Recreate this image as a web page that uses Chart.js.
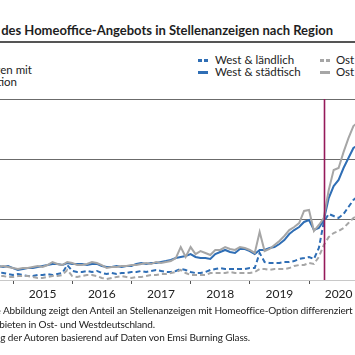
<!DOCTYPE html>
<html><head><meta charset="utf-8">
<script src="https://cdn.jsdelivr.net/npm/chart.js@4.4.1/dist/chart.umd.min.js"></script>
<style>
html,body{margin:0;padding:0;background:#fff;}
body{width:355px;height:355px;overflow:hidden;position:relative;font-family:Lato,"Noto Sans",sans-serif;color:#222;}
.t{position:absolute;white-space:nowrap;}
.title{font-weight:700;font-size:13px;line-height:16px;color:#1e1e1e;}
.rule{position:absolute;left:0;width:355px;top:41px;height:2px;background:#555;}
.yt{font-size:11.5px;line-height:13px;}
.lg{font-size:11.5px;line-height:13px;}
.sym{position:absolute;height:2.5px;}
.fn{font-size:10px;line-height:13px;letter-spacing:-0.14px;}
.pre{position:absolute;right:100%;top:0;white-space:nowrap;}
canvas{position:absolute;left:-40px;top:0;}
</style></head><body>
<div class="t title" style="right:22px;top:22px;">Entwicklung des Homeoffice-Angebots in Stellenanzeigen nach Region</div>
<div class="rule"></div>
<div class="t yt" style="right:323px;top:63px;">Anteil an Stellenanzeigen mit</div>
<div class="t yt" style="right:338px;top:75px;">Homeoffice-Option</div>

<div class="sym" style="left:198px;top:59px;width:4px;background:#2f6eb5"></div>
<div class="sym" style="left:204px;top:59px;width:4px;background:#2f6eb5"></div>
<div class="t lg" style="left:215px;top:53px;">West &amp; ländlich</div>
<div class="sym" style="left:198px;top:71px;width:10px;background:#2f6eb5"></div>
<div class="t lg" style="left:215px;top:65px;">West &amp; städtisch</div>
<div class="sym" style="left:320px;top:59px;width:4px;background:#a6a6a6"></div>
<div class="sym" style="left:326px;top:59px;width:4px;background:#a6a6a6"></div>
<div class="t lg" style="left:336px;top:53px;">Ost &amp; ländlich</div>
<div class="sym" style="left:320px;top:71px;width:10px;background:#a6a6a6"></div>
<div class="t lg" style="left:336px;top:65px;">Ost &amp; städtisch</div>

<canvas id="c" width="460" height="355"></canvas>

<div class="t fn" style="left:3px;top:304px;"><span class="pre">Anmerkung: Die&nbsp;</span>Abbildung zeigt den Anteil an Stellenanzeigen mit Homeoffice-Option differenziert nach ländlichen und städtischen</div>
<div class="t fn" style="right:200px;top:318px;">Gebieten in Ost- und Westdeutschland.</div>
<div class="t fn" style="right:105px;top:331px;">Quelle: Eigene Berechnung der Autoren basierend auf Daten von Emsi Burning Glass.</div>

<script>
// Months relative to January 2015 (0 = Jan 2015); data start Sep 2014
const firstMonthOffset = -4;
const yearLabels = ['2015','2016','2017','2018','2019','2020','2021'];
const yearStartTicks = [0, 12, 24, 36, 48, 60, 72];
const markerMonth = 63;
const yGridValues = [0, 5, 10, 15];

const westLaendlich = [0.66,0.66,0.58,0.50,0.41,0.50,0.41,0.33,0.33,0.41,0.41,0.50,0.41,0.50,0.58,1.24,
  0.75,0.66,0.66,0.75,0.66,0.75,0.58,0.50,0.58,0.50,0.58,0.58,
  0.66,0.66,0.75,0.66,0.75,0.83,0.75,0.66,0.66,0.75,0.91,0.83,
  0.66,0.58,0.58,0.66,0.83,0.91,0.99,0.91,0.91,0.91,0.91,0.91,
  0.99,0.99,2.24,1.49,1.41,1.41,1.41,1.49,1.49,1.57,1.74,1.82,
  1.91,1.74,2.65,4.81,5.47,5.30,5.14,5.47,6.05,6.63,6.96];
const westStaedtisch = [1.16,1.16,1.08,1.16,0.99,0.83,0.91,0.99,0.99,1.08,1.16,1.24,1.33,1.33,1.24,1.41,
  1.33,1.33,1.33,1.24,1.33,1.33,1.16,1.08,1.08,1.16,1.08,1.16,
  1.16,1.33,1.41,1.33,1.41,1.41,1.49,1.57,1.66,1.82,1.91,1.99,
  2.15,1.91,1.82,1.82,1.74,2.15,2.32,2.49,2.32,2.24,2.57,2.57,
  2.40,2.15,2.49,2.49,2.65,2.73,2.98,3.31,3.81,4.14,4.39,4.81,
  4.97,4.14,4.31,4.97,6.79,7.79,8.29,9.28,10.11,10.94,11.18];
const ostLaendlich = [0.33,0.33,0.33,0.25,0.25,0.33,0.33,0.33,0.25,0.17,0.17,0.25,0.33,0.33,0.41,0.83,
  0.33,0.25,0.33,0.41,0.41,0.33,0.17,0.08,0.17,0.25,0.33,0.25,
  0.17,0.25,0.25,0.33,0.41,0.41,0.50,0.50,0.58,0.66,0.83,0.58,
  0.41,0.41,0.41,0.41,0.58,0.58,0.58,0.58,0.66,0.58,0.58,0.58,
  0.58,0.66,0.91,0.91,0.83,0.91,0.91,0.91,0.99,1.16,1.24,1.24,
  1.41,1.33,1.91,2.90,3.56,3.89,4.06,4.31,4.72,5.14,5.39];
const ostStaedtisch = [1.08,1.08,1.16,1.08,0.99,0.91,0.99,0.99,1.08,1.16,1.08,1.24,1.49,1.33,1.24,1.49,
  1.41,1.24,1.24,1.33,1.49,1.41,1.24,0.99,1.08,1.08,1.16,1.16,
  1.24,1.24,1.33,1.41,1.33,1.49,1.41,1.49,1.57,1.82,2.73,1.91,
  2.73,2.15,2.40,2.24,2.07,2.49,2.49,2.73,2.57,2.49,2.73,2.65,
  2.49,2.24,3.98,2.40,2.57,2.90,3.23,3.65,4.14,4.39,4.72,5.72,
  5.80,4.06,4.56,5.14,7.46,9.11,9.28,10.60,11.76,12.76,13.09];

const toPoints = arr => arr.map((v, i) => ({x: firstMonthOffset + i, y: v}));
const BLUE = '#2f6eb5', GRAY = '#a6a6a6';

const markerPlugin = {
  id: 'marker',
  afterDatasetsDraw(chart) {
    const {ctx, chartArea, scales} = chart;
    const x = Math.round(scales.x.getPixelForValue(markerMonth)) + 0.5;
    ctx.save();
    ctx.strokeStyle = '#951a5a';
    ctx.lineWidth = 1.6;
    ctx.beginPath();
    ctx.moveTo(x, chartArea.top);
    ctx.lineTo(x, chartArea.bottom);
    ctx.stroke();
    ctx.restore();
  }
};

const chart = new Chart(document.getElementById('c'), {
  type: 'line',
  data: {
    datasets: [
      {label: 'Ost & städtisch', data: toPoints(ostStaedtisch), borderColor: GRAY, borderWidth: 2},
      {label: 'West & städtisch', data: toPoints(westStaedtisch), borderColor: BLUE, borderWidth: 2},
      {label: 'Ost & ländlich', data: toPoints(ostLaendlich), borderColor: GRAY, borderWidth: 2, borderDash: [5, 3]},
      {label: 'West & ländlich', data: toPoints(westLaendlich), borderColor: BLUE, borderWidth: 2, borderDash: [5, 3]}
    ]
  },
  options: {
    responsive: false,
    devicePixelRatio: 1,
    animation: false,
    layout: {autoPadding: false, padding: {left: 8.6, right: 7.4, top: 99, bottom: 53.6}},
    elements: {point: {radius: 0}, line: {tension: 0}},
    plugins: {legend: {display: false}, tooltip: {enabled: false}},
    scales: {
      x: {
        type: 'linear', min: -9, max: 81,
        afterBuildTicks: s => { s.ticks = yearStartTicks.map(v => ({value: v})); },
        ticks: {
          callback: v => yearLabels[yearStartTicks.indexOf(v)],
          labelOffset: 29.6, padding: 3, maxRotation: 0, autoSkip: false,
          color: '#222', font: {family: 'Lato', size: 12}
        },
        grid: {drawOnChartArea: false, drawTicks: true, tickLength: 4, color: '#555'},
        border: {display: true, color: '#c8c8c8', width: 1}
      },
      y: {
        min: 0, max: 15,
        afterBuildTicks: s => { s.ticks = yGridValues.map(v => ({value: v})); },
        ticks: {display: false},
        grid: {drawTicks: false, color: c => c.tick && c.tick.value === 0 ? 'rgba(0,0,0,0)' : '#6b6b6b', lineWidth: 1},
        border: {display: false}
      }
    }
  },
  plugins: [markerPlugin]
});

// Fit the plot area to the intended frame (canvas coordinates)
const target = {left: 8.6, right: 452.6, top: 99, bottom: 280};
for (let k = 0; k < 3; k++) {
  const a = chart.chartArea, p = chart.options.layout.padding;
  p.left += target.left - a.left;
  p.right += a.right - target.right;
  p.top += target.top - a.top;
  p.bottom += a.bottom - target.bottom;
  chart.update('none');
}
</script>
</body></html>
